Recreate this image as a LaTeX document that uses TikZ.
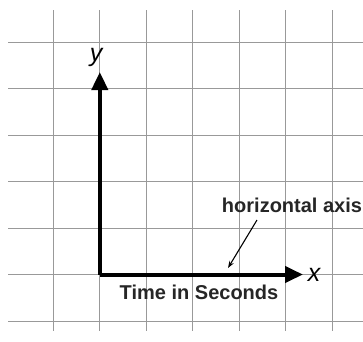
\documentclass[tikz,border=0pt]{standalone}
\usepackage{fontspec}
\setmainfont{Liberation Sans}
\usetikzlibrary{arrows.meta}
\begin{document}
\begin{tikzpicture}[x=1pt,y=-1pt,
 gridline/.style={draw=black!40, line width=1pt},
 axisline/.style={line width=4pt, -{Triangle[length=18pt,width=16pt]}},
 axislabel/.style={font=\fontsize{25}{30}\selectfont\itshape, inner sep=0pt},
 boldlabel/.style={font=\fontsize{20}{24}\selectfont\bfseries, text=black!85, inner sep=0pt, anchor=base},
 pointer/.style={line width=1.1pt, -{Stealth[length=7pt,width=5pt]}}]
\useasboundingbox (0,0) rectangle (363,341);
\fill[white] (0,0) rectangle (363,341);
\foreach \x in {53.3,99.8,146.3,192.8,239.3,285.8,332.3} \draw[gridline] (\x,10) -- (\x,331);
\foreach \y in {42.3,88.8,135.3,181.7,228.2,274.5,321} \draw[gridline] (8,\y) -- (363,\y);
\coordinate (O) at (99.8,274.5);
\coordinate (ytip) at (99.8,72);
\coordinate (xtip) at (303,274.5);
\draw[axisline] (O) -- (ytip);
\draw[axisline] (O) -- (xtip);
\node[axislabel, anchor=base] (ylab) at (96,61) {y};
\node[axislabel, anchor=base] (xlab) at (314,281.5) {x};
\node[boldlabel] (hlab) at (292,212.5) {horizontal axis};
\node[boldlabel] (tlab) at (199,299) {Time in Seconds};
\coordinate (pstart) at (257,220);
\coordinate (pend) at (228,268);
\draw[pointer] (pstart) -- (pend);
\end{tikzpicture}
\end{document}
